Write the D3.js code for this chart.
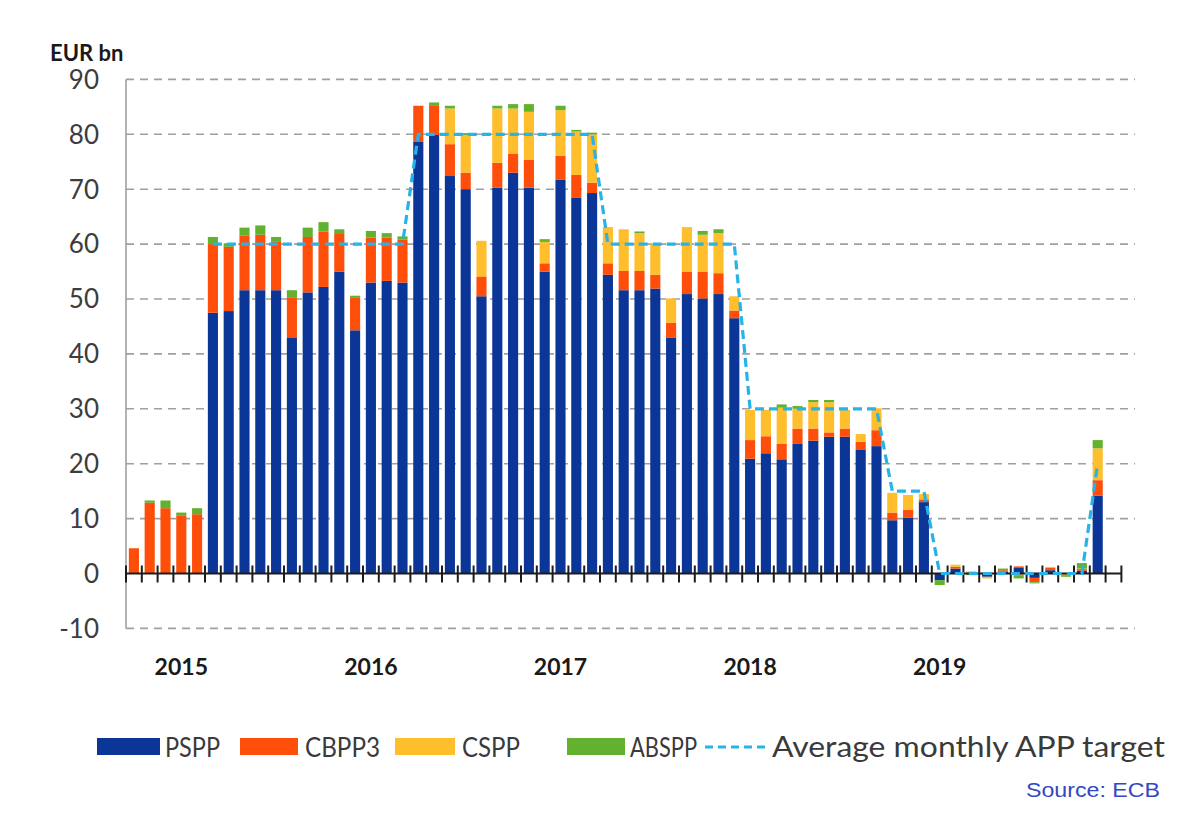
<!DOCTYPE html>
<html>
<head>
<meta charset="utf-8">
<script src="https://cdnjs.cloudflare.com/ajax/libs/d3/7.8.5/d3.min.js"></script>
<style>
body { margin:0; background:#fff; }
text { font-family: Lato, "Open Sans", sans-serif; }
</style>
</head>
<body>
<div id="chart"></div>
<script>
////////////////////////////////////////////////////
// APP monthly net purchases, EUR bn, Oct 2014 - Nov 2019
////////////////////////////////////////////////////
var months = [
	"2014-10","2014-11","2014-12",
	"2015-01","2015-02","2015-03","2015-04","2015-05","2015-06","2015-07","2015-08","2015-09","2015-10","2015-11","2015-12",
	"2016-01","2016-02","2016-03","2016-04","2016-05","2016-06","2016-07","2016-08","2016-09","2016-10","2016-11","2016-12",
	"2017-01","2017-02","2017-03","2017-04","2017-05","2017-06","2017-07","2017-08","2017-09","2017-10","2017-11","2017-12",
	"2018-01","2018-02","2018-03","2018-04","2018-05","2018-06","2018-07","2018-08","2018-09","2018-10","2018-11","2018-12",
	"2019-01","2019-02","2019-03","2019-04","2019-05","2019-06","2019-07","2019-08","2019-09","2019-10","2019-11"
];
// empty slot kept at the right end of the axis
var padMonth = "2019-12";

var pspp = [
	0, 0, 0,
	0, 0, 47.5, 47.8, 51.6, 51.6, 51.6, 42.9, 51.2, 52.2, 55.0, 44.3,
	53.0, 53.3, 53.0, 78.7, 79.9, 72.4, 70.0, 50.5, 70.3, 73.0, 70.3, 55.0,
	71.7, 68.5, 69.3, 54.4, 51.6, 51.6, 51.9, 43.0, 50.9, 50.1, 50.9, 46.5,
	20.9, 21.9, 20.8, 23.6, 24.2, 24.9, 24.9, 22.5, 23.2, 9.7, 10.2, 13.0,
	-1.2, 0.9, 0.1, -0.6, 0.3, 1.0, -0.8, 0.6, 0.1, 0.5, 14.2
];
var cbpp3 = [
	4.6, 12.9, 11.9,
	10.5, 10.8, 12.5, 11.7, 10.0, 10.1, 8.8, 7.3, 10.1, 10.1, 7.0, 5.9,
	8.2, 7.9, 7.8, 6.5, 5.4, 5.8, 3.0, 3.6, 4.5, 3.5, 5.1, 1.5,
	4.4, 4.1, 1.9, 2.1, 3.5, 3.5, 2.5, 2.7, 4.1, 4.9, 3.8, 1.4,
	3.4, 3.1, 2.8, 2.8, 2.2, 0.8, 1.5, 1.5, 2.9, 1.4, 1.4, 0.5,
	0, 0.3, 0.1, 0, 0.3, 0.3, -0.8, 0.4, 0, 0.3, 2.8
];
var cspp = [
	0, 0, 0,
	0, 0, 0, 0, 0, 0, 0, 0, 0, 0, 0, 0,
	0, 0, 0, 0, 0, 6.5, 6.9, 6.5, 9.9, 8.2, 8.7, 3.9,
	8.3, 7.9, 8.8, 6.6, 7.6, 6.9, 5.6, 4.4, 8.1, 6.7, 7.3, 2.6,
	5.5, 4.8, 6.6, 3.6, 4.8, 5.5, 3.4, 1.4, 4.0, 3.6, 2.7, 1.0,
	0, 0.4, 0.2, -0.3, 0, -0.3, 0, 0.2, -0.3, 0.1, 5.8
];
var abspp = [
	0, 0.4, 1.4,
	0.6, 1.1, 1.3, 0.6, 1.4, 1.7, 0.9, 1.4, 1.7, 1.7, 0.7, 0.4,
	1.2, 0.8, 0.6, 0, 0.5, 0.5, 0.3, 0, 0.5, 0.8, 1.4, 0.5,
	0.8, 0.3, 0.3, 0, 0, 0.3, 0, 0, 0, 0.7, 0.7, 0,
	0, 0, 0.6, 0.5, 0.4, 0.4, 0, 0, 0, 0, 0, 0,
	-0.9, 0, -0.3, 0.1, 0.3, -0.6, -0.2, 0, -0.3, 1.0, 1.5
];
// average monthly APP target (null before March 2015)
var target = [
	null, null, null,
	null, null, 60, 60, 60, 60, 60, 60, 60, 60, 60, 60,
	60, 60, 60, 80, 80, 80, 80, 80, 80, 80, 80, 80,
	80, 80, 80, 60, 60, 60, 60, 60, 60, 60, 60, 60,
	30, 30, 30, 30, 30, 30, 30, 30, 30, 15, 15, 15,
	0, 0, 0, 0, 0, 0, 0, 0, 0, 0, 20
];

var keys = ["PSPP","CBPP3","CSPP","ABSPP"];
var colors = ["#0b3596","#ff4d0a","#ffbe2b","#62b22f"];
var targetColor = "#27b3e8";
var yTicks = [90,80,70,60,50,40,30,20,10,0,-10];
var yearLabels = ["2015","2016","2017","2018","2019"];
var yearMonths = ["2015-01","2016-01","2017-01","2018-01","2019-01"];

////////////////////////////////////////////////////
var W = 1200, H = 833;
var left = 126, right = 1121.4, gridRight = 1135;

var svg = d3.select("#chart").append("svg")
	.attr("width", W)
	.attr("height", H);

var x = d3.scaleBand()
	.domain(months.concat([padMonth]))
	.range([left, right])
	.paddingInner(0.36)
	.paddingOuter(0.18);
var y = d3.scaleLinear()
	.domain([-10, 90])
	.range([628.4, 79.4]);
// slot boundaries for the little ticks on the zero line
var xb = d3.scaleLinear()
	.domain([0, months.length + 1])
	.range([left, right]);

// gridlines
svg.append("g").selectAll("line")
	.data(yTicks.filter(function(v){ return v != 0; }))
	.enter().append("line")
		.attr("x1", left)
		.attr("x2", gridRight)
		.attr("y1", function(d){ return y(d); })
		.attr("y2", function(d){ return y(d); })
		.attr("stroke", "#a0a0a0")
		.attr("stroke-width", 1.6)
		.attr("stroke-dasharray", "8,6");

// y tick labels
svg.append("g").selectAll("text")
	.data(yTicks)
	.enter().append("text")
		.attr("x", 99)
		.attr("y", function(d){ return y(d); })
		.attr("dy", "0.36em")
		.attr("text-anchor", "end")
		.attr("font-size", 26)
		.attr("fill", "#3d3d3d")
		.text(function(d){ return d; });

svg.append("text")
	.attr("x", 50)
	.attr("y", 61)
	.attr("font-size", 22)
	.attr("font-weight", "bold")
	.attr("fill", "#1a1a1a")
	.text("EUR bn");

// stacked bars
var rows = months.map(function(m, i){
	return {month:m, PSPP:pspp[i], CBPP3:cbpp3[i], CSPP:cspp[i], ABSPP:abspp[i]};
});
var series = d3.stack().keys(keys).offset(d3.stackOffsetDiverging)(rows);

var groups = svg.append("g").selectAll("g")
	.data(series)
	.enter().append("g")
		.attr("fill", function(d, i){ return colors[i]; });
groups.selectAll("rect")
	.data(function(d){ return d; })
	.enter().append("rect")
		.attr("x", function(d){ return x(d.data.month); })
		.attr("width", x.bandwidth())
		.attr("y", function(d){ return y(Math.max(d[0], d[1])); })
		.attr("height", function(d){ return Math.abs(y(d[0]) - y(d[1])); });

// y axis line
svg.append("line")
	.attr("x1", left).attr("x2", left)
	.attr("y1", y(90)).attr("y2", y(-10))
	.attr("stroke", "#9a9a9a")
	.attr("stroke-width", 1.5);

// zero line with month ticks
svg.append("line")
	.attr("x1", left).attr("x2", right)
	.attr("y1", y(0)).attr("y2", y(0))
	.attr("stroke", "#1c1c1c")
	.attr("stroke-width", 2);
svg.append("g").selectAll("line")
	.data(d3.range(months.length + 2))
	.enter().append("line")
		.attr("x1", function(d){ return xb(d); })
		.attr("x2", function(d){ return xb(d); })
		.attr("y1", y(0) - 8)
		.attr("y2", y(0) + 9)
		.attr("stroke", "#1c1c1c")
		.attr("stroke-width", 2);

// target line
var line = d3.line()
	.defined(function(d){ return d != null; })
	.x(function(d, i){ return x(months[i]) + x.bandwidth() / 2; })
	.y(function(d){ return y(d); });
svg.append("path")
	.datum(target)
	.attr("d", line)
	.attr("fill", "none")
	.attr("stroke", targetColor)
	.attr("stroke-width", 3.2)
	.attr("stroke-dasharray", "9,5");

// year labels
svg.append("g").selectAll("text")
	.data(yearLabels)
	.enter().append("text")
		.attr("x", function(d, i){ return x(yearMonths[i]) + x.bandwidth() / 2; })
		.attr("y", 675)
		.attr("text-anchor", "middle")
		.attr("font-size", 23)
		.attr("font-weight", "bold")
		.attr("fill", "#1a1a1a")
		.text(function(d){ return d; });

// legend
var legendItems = [
	{name:"PSPP", sx:97, sw:63, tx:165, tw:55},
	{name:"CBPP3", sx:240, sw:58, tx:305, tw:75},
	{name:"CSPP", sx:395, sw:60, tx:462, tw:58},
	{name:"ABSPP", sx:567, sw:58, tx:630, tw:67}
];
var leg = svg.append("g");
legendItems.forEach(function(d, i){
	leg.append("rect")
		.attr("x", d.sx).attr("y", 738)
		.attr("width", d.sw).attr("height", 17)
		.attr("fill", colors[i]);
	leg.append("text")
		.attr("x", d.tx).attr("y", 757)
		.attr("font-size", 27)
		.attr("fill", "#3a3a3a")
		.attr("textLength", d.tw)
		.attr("lengthAdjust", "spacingAndGlyphs")
		.text(d.name);
});
leg.append("line")
	.attr("x1", 705).attr("x2", 766)
	.attr("y1", 747).attr("y2", 747)
	.attr("stroke", targetColor)
	.attr("stroke-width", 3)
	.attr("stroke-dasharray", "8,5");
leg.append("text")
	.attr("x", 772).attr("y", 757)
	.attr("font-size", 28)
	.attr("fill", "#3a3a3a")
	.attr("textLength", 393)
	.attr("lengthAdjust", "spacingAndGlyphs")
	.text("Average monthly APP target");

svg.append("text")
	.attr("x", 1160)
	.attr("y", 797)
	.attr("text-anchor", "end")
	.attr("font-size", 20)
	.attr("fill", "#3348c2")
	.attr("textLength", 134)
	.attr("lengthAdjust", "spacingAndGlyphs")
	.style("font-family", "'Liberation Sans', Arial, sans-serif")
	.text("Source: ECB");
////////////////////////////////////////////////////
</script>
</body>
</html>
